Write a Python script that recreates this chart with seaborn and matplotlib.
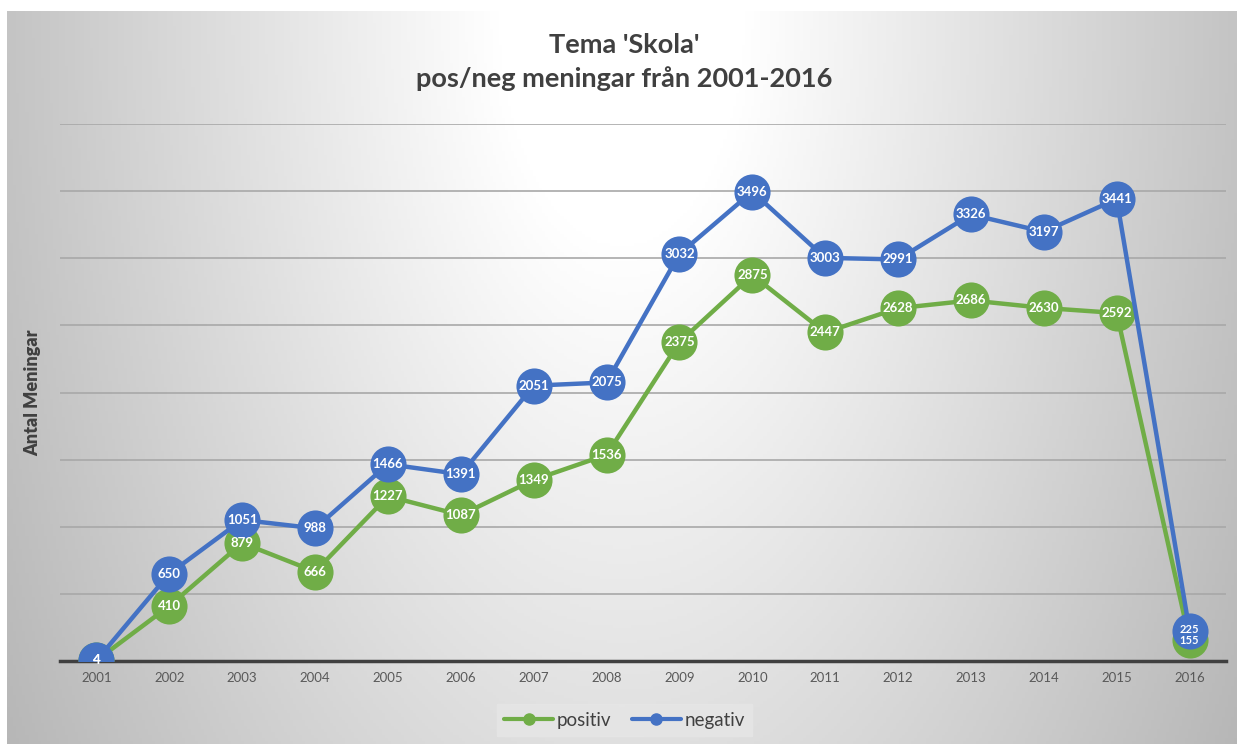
import numpy as np
import pandas as pd
import matplotlib
matplotlib.use("Agg")
import matplotlib.pyplot as plt
import seaborn as sns

years = ["2001", "2002", "2003", "2004", "2005", "2006", "2007", "2008",
         "2009", "2010", "2011", "2012", "2013", "2014", "2015", "2016"]
positiv = [4, 410, 879, 666, 1227, 1087, 1349, 1536, 2375, 2875, 2447, 2628, 2686, 2630, 2592, 155]
negativ = [4, 650, 1051, 988, 1466, 1391, 2051, 2075, 3032, 3496, 3003, 2991, 3326, 3197, 3441, 225]

df = pd.DataFrame({
    "year": years * 2,
    "antal": positiv + negativ,
    "serie": ["positiv"] * len(years) + ["negativ"] * len(years),
})

sns.set_style("white")
plt.rcParams["font.family"] = ["Lato", "DejaVu Sans"]

green = "#70AD47"
blue = "#4472C4"

fig = plt.figure(figsize=(12.37, 7.44), dpi=100)

# gradient background of the chart area
bg = fig.add_axes([7 / 1237, 0, 1 - 7 / 1237, 733 / 744])
xx, yy = np.meshgrid(np.linspace(-1, 1, 400), np.linspace(0, 1, 240))
r = np.sqrt((xx / 1.0) ** 2 + (yy / 1.6) ** 2)
shade = 1.0 - 0.26 * np.clip(r - 0.2, 0, None) / 0.9
bg.imshow(np.dstack([shade] * 3).clip(0, 1), aspect="auto", extent=[0, 1, 0, 1], origin="upper")
bg.axis("off")

ax = fig.add_axes([60 / 1237, 1 - 661 / 744, (1226 - 60) / 1237, (661 - 124) / 744])
ax.patch.set_alpha(0)

sns.lineplot(data=df, x="year", y="antal", hue="serie", palette={"positiv": green, "negativ": blue},
             marker="o", markersize=26, markeredgewidth=0, linewidth=3.2, sort=False,
             legend=False, ax=ax)

n = len(years)
for i in range(n):
    p, q = positiv[i], negativ[i]
    if abs(p - q) < 150 and p != q:
        # points almost on top of each other: stack the two labels
        mid = (p + q) / 2
        ax.text(i, mid, str(q), ha="center", va="bottom", color="white",
                fontsize=8, fontweight="bold", zorder=5)
        ax.text(i, mid, str(p), ha="center", va="top", color="white",
                fontsize=8, fontweight="bold", zorder=5)
    else:
        ax.text(i, p, str(p), ha="center", va="center", color="white",
                fontsize=9.5, fontweight="bold", zorder=5)
        ax.text(i, q, str(q), ha="center", va="center", color="white",
                fontsize=9.5, fontweight="bold", zorder=5)

ax.set_xlim(-0.5, n - 0.5)
ax.set_ylim(0, 4000)
ax.set_yticks(np.arange(500, 4001, 500))
ax.set_yticklabels([])
ax.tick_params(axis="y", length=0)
ax.yaxis.grid(True, color="#a8a8a8", linewidth=1.2)
ax.set_axisbelow(True)
ax.tick_params(axis="x", length=0, labelsize=9.5, labelcolor="#595959", pad=8)
for s in ["top", "right", "left"]:
    ax.spines[s].set_visible(False)
ax.spines["bottom"].set_color("#404040")
ax.spines["bottom"].set_linewidth(2.5)
ax.spines["bottom"].set_zorder(1)
ax.set_xlabel("")
ax.set_ylabel("Antal Meningar", fontsize=13, fontweight="heavy", color="#404040", labelpad=10)

fig.text(0.505, 0.94, "Tema 'Skola'", ha="center", va="center", fontsize=19.5,
         fontweight="bold", color="#404040")
fig.text(0.505, 0.894, "pos/neg meningar från 2001-2016", ha="center", va="center", fontsize=19.5,
         fontweight="bold", color="#404040")

handles = [plt.Line2D([], [], color=green, marker="o", markersize=8, linewidth=3),
           plt.Line2D([], [], color=blue, marker="o", markersize=8, linewidth=3)]
leg = fig.legend(handles, ["positiv", "negativ"], loc="center", bbox_to_anchor=(0.505, 0.032),
                 ncol=2, frameon=True, fontsize=13.5, handlelength=2.6, handletextpad=0.2,
                 columnspacing=1.1, borderpad=0.4, fancybox=False)
leg.get_frame().set_facecolor("#e6e6e6")
leg.get_frame().set_edgecolor("#e6e6e6")
for t in leg.get_texts():
    t.set_color("#404040")

fig.savefig("out.png", dpi=100)
